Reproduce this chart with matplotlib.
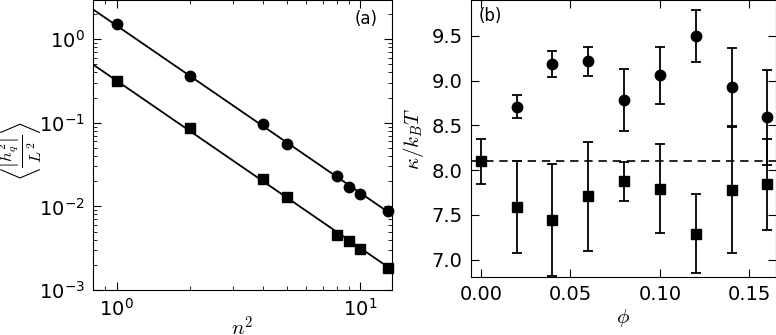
import numpy as np
import matplotlib
matplotlib.use('Agg')
import matplotlib.pyplot as plt

plt.rcParams['font.family'] = ['DejaVu Sans']
plt.rcParams['mathtext.fontset'] = 'cm'
plt.rcParams['axes.unicode_minus'] = False

# panel (a): fluctuation spectrum vs n^2
n2 = [1, 2, 4, 5, 8, 9, 10, 13]
hq_circ = [1.5, 0.361, 0.0957, 0.055, 0.0231, 0.0172, 0.0139, 0.0088]
hq_sq = [0.318, 0.0865, 0.021, 0.0128, 0.00455, 0.00389, 0.00307, 0.00185]

# panel (b): bending rigidity vs phi
phi = [0.02, 0.04, 0.06, 0.08, 0.10, 0.12, 0.14, 0.16]
kappa_circ = [8.71, 9.187, 9.217, 8.785, 9.06, 9.50, 8.93, 8.59]
kappa_circ_err = [0.127, 0.147, 0.163, 0.343, 0.317, 0.287, 0.431, 0.532]
phi_sq = [0.00, 0.02, 0.04, 0.06, 0.08, 0.10, 0.12, 0.14, 0.16]
kappa_sq = [8.10, 7.589, 7.443, 7.708, 7.879, 7.794, 7.29, 7.779, 7.842]
kappa_sq_err = [0.253, 0.518, 0.621, 0.607, 0.218, 0.495, 0.443, 0.70, 0.507]
kappa_ref = 8.10

fig = plt.figure(figsize=(7.76, 3.35), dpi=100)

# ---- (a) ----
ax1 = fig.add_axes([93/776, 45/335, 299/776, 290/335])
xf = np.array([0.8, 13.5])
for y, m in [(hq_circ, 'o'), (hq_sq, 's')]:
    x = np.array(n2, dtype=float)
    yy = np.array(y)
    # power law fit with slope -2
    A = np.exp(np.mean(np.log(yy) + 2 * np.log(x)))
    ax1.plot(xf, A * xf**-2, 'k-', lw=1.3)
    ax1.plot(x, yy, 'k' + m, ms=7.5 if m == 'o' else 7, clip_on=False, zorder=3)
ax1.set_xscale('log')
ax1.set_yscale('log')
ax1.set_xlim(0.8, 13.5)
ax1.set_ylim(1e-3, 2.93)
ax1.tick_params(which='both', direction='in', top=True, right=True, labelsize=14)
ax1.tick_params(which='major', length=6, pad=6)
ax1.tick_params(which='minor', length=3)
ax1.set_xlabel(r'$n^2$', fontsize=15, labelpad=-3)
ax1.set_ylabel(r'$\left\langle \frac{\left|h_q^2\right|}{L^2} \right\rangle$', fontsize=17, labelpad=0)
ax1.yaxis.set_label_coords(-0.165, 0.48)
ax1.text(0.953, 0.965, '(a)', transform=ax1.transAxes, ha='right', va='top', fontsize=12)

# ---- (b) ----
ax2 = fig.add_axes([471/776, 58/335, 305/776, 277/335])
ax2.axhline(kappa_ref, color='k', lw=1.2, ls=(0, (5, 3.5)))
ax2.errorbar(phi, kappa_circ, yerr=kappa_circ_err, fmt='ko', ms=7.5, capsize=3.5,
             elinewidth=1.3, capthick=1.3)
ax2.errorbar(phi_sq, kappa_sq, yerr=kappa_sq_err, fmt='ks', ms=7, capsize=3.5,
             elinewidth=1.3, capthick=1.3, clip_on=False)
ax2.set_xlim(-0.0055, 0.1648)
ax2.set_ylim(6.807, 9.902)
ax2.set_xticks([0.0, 0.05, 0.10, 0.15])
ax2.set_xticklabels(['0.00', '0.05', '0.10', '0.15'])
ax2.set_yticks([7.0, 7.5, 8.0, 8.5, 9.0, 9.5])
ax2.tick_params(direction='in', top=True, right=True, labelsize=14, length=6, pad=6)
ax2.set_xlabel(r'$\phi$', fontsize=15, labelpad=2)
ax2.set_ylabel(r'$\kappa/k_BT$', fontsize=15, labelpad=4)
ax2.text(0.025, 0.975, '(b)', transform=ax2.transAxes, ha='left', va='top', fontsize=12)

fig.savefig('out.png', dpi=100)
